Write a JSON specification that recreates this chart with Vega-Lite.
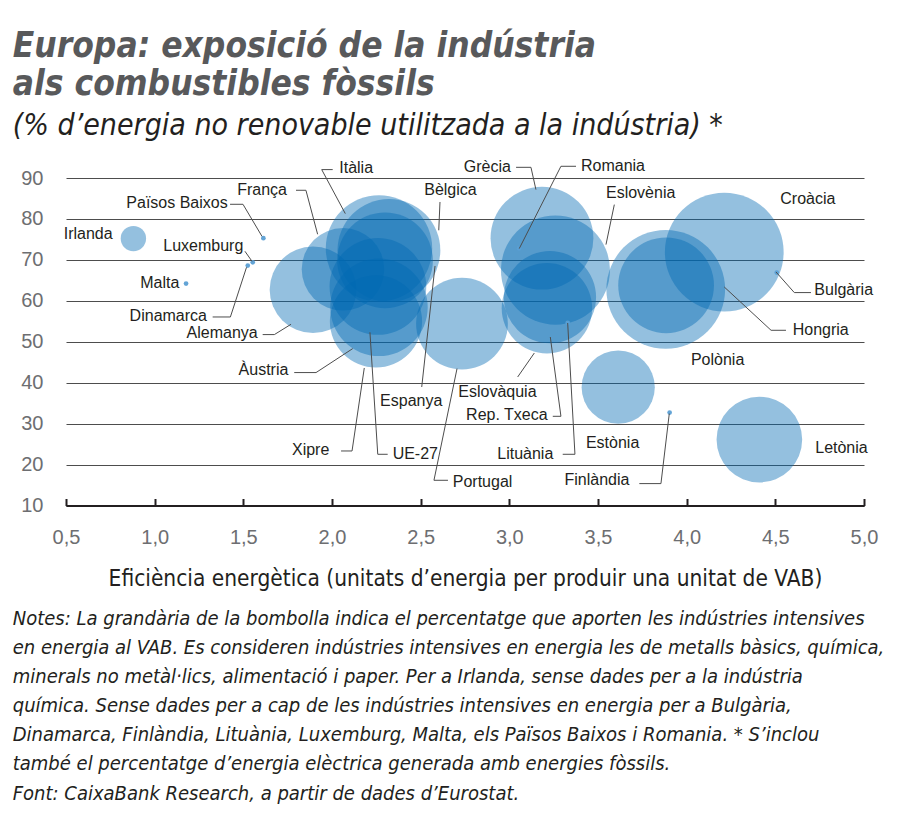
{
  "$schema": "https://vega.github.io/schema/vega-lite/v6.json",
  "background": "white",
  "padding": {"left": 12, "top": 29, "right": 8, "bottom": 8},
  "title": {
    "text": ["Europa: exposició de la indústria", "als combustibles fòssils"],
    "subtitle": "(% d’energia no renovable utilitzada a la indústria) *",
    "anchor": "start",
    "frame": "bounds",
    "dx": 0,
    "font": "Liberation Sans Narrow, DejaVu Sans Condensed, sans-serif",
    "fontSize": 35,
    "fontStyle": "italic",
    "fontWeight": "bold",
    "color": "#58595b",
    "lineHeight": 38,
    "subtitleFont": "Liberation Sans Narrow, DejaVu Sans Condensed, sans-serif",
    "subtitleFontSize": 30,
    "subtitleFontStyle": "italic",
    "subtitleColor": "#231f20",
    "subtitlePadding": 9,
    "offset": 17
  },
  "datasets": {
    "bubbles": [
      {"pais": "Irlanda", "eficiencia": 0.880, "fossil": 75.2, "vab": 1.37},
      {"pais": "Malta", "eficiencia": 1.177, "fossil": 64.2, "vab": null},
      {"pais": "Països Baixos", "eficiencia": 1.613, "fossil": 75.3, "vab": null},
      {"pais": "Luxemburg", "eficiencia": 1.553, "fossil": 69.4, "vab": null},
      {"pais": "Dinamarca", "eficiencia": 1.525, "fossil": 68.6, "vab": null},
      {"pais": "Alemanya", "eficiencia": 1.893, "fossil": 62.7, "vab": 16.0},
      {"pais": "França", "eficiencia": 2.062, "fossil": 67.7, "vab": 14.5},
      {"pais": "Itàlia", "eficiencia": 2.265, "fossil": 72.8, "vab": 24.1},
      {"pais": "Bèlgica", "eficiencia": 2.321, "fossil": 72.3, "vab": 22.5},
      {"pais": "Espanya", "eficiencia": 2.299, "fossil": 69.9, "vab": 19.5},
      {"pais": "UE-27", "eficiencia": 2.259, "fossil": 63.5, "vab": 19.9},
      {"pais": "Àustria", "eficiencia": 2.265, "fossil": 58.4, "vab": 20.2},
      {"pais": "Xipre", "eficiencia": 2.248, "fossil": 55.0, "vab": 18.1},
      {"pais": "Portugal", "eficiencia": 2.733, "fossil": 54.4, "vab": 17.9},
      {"pais": "Grècia", "eficiencia": 3.184, "fossil": 75.3, "vab": 22.5},
      {"pais": "Romania", "eficiencia": 3.055, "fossil": 72.8, "vab": null},
      {"pais": "Eslovènia", "eficiencia": 3.260, "fossil": 67.5, "vab": 25.3},
      {"pais": "Rep. Txeca", "eficiencia": 3.229, "fossil": 60.9, "vab": 18.1},
      {"pais": "Eslovàquia", "eficiencia": 3.212, "fossil": 58.2, "vab": 17.4},
      {"pais": "Lituània", "eficiencia": 3.329, "fossil": 54.6, "vab": null},
      {"pais": "Estònia", "eficiencia": 3.614, "fossil": 38.9, "vab": 11.4},
      {"pais": "Finlàndia", "eficiencia": 3.904, "fossil": 32.7, "vab": null},
      {"pais": "Hongria", "eficiencia": 3.882, "fossil": 62.8, "vab": 30.0},
      {"pais": "Polònia", "eficiencia": 3.884, "fossil": 63.8, "vab": 19.5},
      {"pais": "Croàcia", "eficiencia": 4.212, "fossil": 71.9, "vab": 30.0},
      {"pais": "Bulgària", "eficiencia": 4.508, "fossil": 66.9, "vab": null},
      {"pais": "Letònia", "eficiencia": 4.410, "fossil": 26.1, "vab": 15.6}
    ],
    "labels": [
      {"pais": "Irlanda", "eficiencia": 0.763, "fossil": 76.42},
      {"pais": "Malta", "eficiencia": 1.139, "fossil": 64.35},
      {"pais": "Països Baixos", "eficiencia": 1.412, "fossil": 83.89},
      {"pais": "França", "eficiencia": 1.746, "fossil": 87.17},
      {"pais": "Luxemburg", "eficiencia": 1.500, "fossil": 73.32},
      {"pais": "Dinamarca", "eficiencia": 1.295, "fossil": 56.29},
      {"pais": "Alemanya", "eficiencia": 1.581, "fossil": 52.14},
      {"pais": "Àustria", "eficiencia": 1.754, "fossil": 43.20},
      {"pais": "Xipre", "eficiencia": 1.985, "fossil": 23.66},
      {"pais": "Grècia", "eficiencia": 3.009, "fossil": 92.69},
      {"pais": "Rep. Txeca", "eficiencia": 3.216, "fossil": 32.21},
      {"pais": "Lituània", "eficiencia": 3.248, "fossil": 22.51},
      {"pais": "Finlàndia", "eficiencia": 3.677, "fossil": 16.16},
      {"pais": "Itàlia", "eficiencia": 2.041, "fossil": 92.54},
      {"pais": "Bèlgica", "eficiencia": 2.520, "fossil": 87.0},
      {"pais": "Espanya", "eficiencia": 2.271, "fossil": 35.53},
      {"pais": "UE-27", "eficiencia": 2.342, "fossil": 22.68},
      {"pais": "Portugal", "eficiencia": 2.681, "fossil": 15.75},
      {"pais": "Eslovàquia", "eficiencia": 2.712, "fossil": 37.73},
      {"pais": "Romania", "eficiencia": 3.404, "fossil": 92.86},
      {"pais": "Eslovènia", "eficiencia": 3.545, "fossil": 86.43},
      {"pais": "Estònia", "eficiencia": 3.432, "fossil": 25.27},
      {"pais": "Croàcia", "eficiencia": 4.528, "fossil": 84.97},
      {"pais": "Bulgària", "eficiencia": 4.720, "fossil": 62.57},
      {"pais": "Hongria", "eficiencia": 4.598, "fossil": 52.80},
      {"pais": "Polònia", "eficiencia": 4.024, "fossil": 45.64},
      {"pais": "Letònia", "eficiencia": 4.725, "fossil": 24.15}
    ],
    "leaders": [
      {"pais": "Països Baixos", "ordre": 1, "eficiencia": 1.425, "fossil": 83.58},
      {"pais": "Països Baixos", "ordre": 2, "eficiencia": 1.498, "fossil": 83.58},
      {"pais": "Països Baixos", "ordre": 3, "eficiencia": 1.605, "fossil": 75.76},
      {"pais": "França", "ordre": 1, "eficiencia": 1.797, "fossil": 87.0},
      {"pais": "França", "ordre": 2, "eficiencia": 1.853, "fossil": 87.0},
      {"pais": "França", "ordre": 3, "eficiencia": 1.919, "fossil": 76.25},
      {"pais": "Itàlia", "ordre": 1, "eficiencia": 2.004, "fossil": 92.05},
      {"pais": "Itàlia", "ordre": 2, "eficiencia": 1.942, "fossil": 92.05},
      {"pais": "Itàlia", "ordre": 3, "eficiencia": 2.075, "fossil": 81.30},
      {"pais": "Luxemburg", "ordre": 1, "eficiencia": 1.509, "fossil": 72.10},
      {"pais": "Luxemburg", "ordre": 2, "eficiencia": 1.549, "fossil": 69.65},
      {"pais": "Dinamarca", "ordre": 1, "eficiencia": 1.327, "fossil": 56.05},
      {"pais": "Dinamarca", "ordre": 2, "eficiencia": 1.427, "fossil": 56.05},
      {"pais": "Dinamarca", "ordre": 3, "eficiencia": 1.518, "fossil": 68.19},
      {"pais": "Alemanya", "ordre": 1, "eficiencia": 1.609, "fossil": 51.75},
      {"pais": "Alemanya", "ordre": 2, "eficiencia": 1.675, "fossil": 51.75},
      {"pais": "Alemanya", "ordre": 3, "eficiencia": 1.769, "fossil": 54.27},
      {"pais": "Àustria", "ordre": 1, "eficiencia": 1.787, "fossil": 42.47},
      {"pais": "Àustria", "ordre": 2, "eficiencia": 1.910, "fossil": 42.47},
      {"pais": "Àustria", "ordre": 3, "eficiencia": 2.117, "fossil": 48.33},
      {"pais": "Espanya", "ordre": 1, "eficiencia": 2.506, "fossil": 38.95},
      {"pais": "Espanya", "ordre": 2, "eficiencia": 2.581, "fossil": 68.51},
      {"pais": "Xipre", "ordre": 1, "eficiencia": 2.051, "fossil": 23.32},
      {"pais": "Xipre", "ordre": 2, "eficiencia": 2.113, "fossil": 23.32},
      {"pais": "Xipre", "ordre": 3, "eficiencia": 2.182, "fossil": 43.59},
      {"pais": "UE-27", "ordre": 1, "eficiencia": 2.314, "fossil": 22.51},
      {"pais": "UE-27", "ordre": 2, "eficiencia": 2.258, "fossil": 22.51},
      {"pais": "UE-27", "ordre": 3, "eficiencia": 2.214, "fossil": 52.31},
      {"pais": "Portugal", "ordre": 1, "eficiencia": 2.654, "fossil": 16.16},
      {"pais": "Portugal", "ordre": 2, "eficiencia": 2.575, "fossil": 16.16},
      {"pais": "Portugal", "ordre": 3, "eficiencia": 2.705, "fossil": 43.44},
      {"pais": "Eslovàquia", "ordre": 1, "eficiencia": 3.047, "fossil": 41.39},
      {"pais": "Eslovàquia", "ordre": 2, "eficiencia": 3.141, "fossil": 47.25},
      {"pais": "Rep. Txeca", "ordre": 1, "eficiencia": 3.245, "fossil": 31.79},
      {"pais": "Rep. Txeca", "ordre": 2, "eficiencia": 3.291, "fossil": 31.79},
      {"pais": "Rep. Txeca", "ordre": 3, "eficiencia": 3.231, "fossil": 51.16},
      {"pais": "Lituània", "ordre": 1, "eficiencia": 3.301, "fossil": 22.51},
      {"pais": "Lituània", "ordre": 2, "eficiencia": 3.370, "fossil": 22.51},
      {"pais": "Lituània", "ordre": 3, "eficiencia": 3.329, "fossil": 54.58},
      {"pais": "Finlàndia", "ordre": 1, "eficiencia": 3.733, "fossil": 15.35},
      {"pais": "Finlàndia", "ordre": 2, "eficiencia": 3.855, "fossil": 15.35},
      {"pais": "Finlàndia", "ordre": 3, "eficiencia": 3.902, "fossil": 32.45},
      {"pais": "Grècia", "ordre": 1, "eficiencia": 3.038, "fossil": 92.61},
      {"pais": "Grècia", "ordre": 2, "eficiencia": 3.122, "fossil": 92.61},
      {"pais": "Grècia", "ordre": 3, "eficiencia": 3.150, "fossil": 87.17},
      {"pais": "Romania", "ordre": 1, "eficiencia": 3.376, "fossil": 92.86},
      {"pais": "Romania", "ordre": 2, "eficiencia": 3.291, "fossil": 92.86},
      {"pais": "Romania", "ordre": 3, "eficiencia": 3.056, "fossil": 72.76},
      {"pais": "Eslovènia", "ordre": 1, "eficiencia": 3.592, "fossil": 83.50},
      {"pais": "Eslovènia", "ordre": 2, "eficiencia": 3.545, "fossil": 73.73},
      {"pais": "Bèlgica", "ordre": 1, "eficiencia": 2.609, "fossil": 84.14},
      {"pais": "Bèlgica", "ordre": 2, "eficiencia": 2.602, "fossil": 77.23},
      {"pais": "Bulgària", "ordre": 1, "eficiencia": 4.701, "fossil": 62.01},
      {"pais": "Bulgària", "ordre": 2, "eficiencia": 4.607, "fossil": 62.01},
      {"pais": "Bulgària", "ordre": 3, "eficiencia": 4.504, "fossil": 67.04},
      {"pais": "Hongria", "ordre": 1, "eficiencia": 4.560, "fossil": 52.80},
      {"pais": "Hongria", "ordre": 2, "eficiencia": 4.476, "fossil": 52.80},
      {"pais": "Hongria", "ordre": 3, "eficiencia": 4.212, "fossil": 63.38}
    ]
  },
  "vconcat": [
    {
      "width": 798,
      "height": 327.5,
      "title": {
        "text": [
          "Notes: La grandària de la bombolla indica el percentatge que aporten les indústries intensives",
          "en energia al VAB. Es consideren indústries intensives en energia les de metalls bàsics, química,",
          "minerals no metàl·lics, alimentació i paper. Per a Irlanda, sense dades per a la indústria",
          "química. Sense dades per a cap de les indústries intensives en energia per a Bulgària,",
          "Dinamarca, Finlàndia, Lituània, Luxemburg, Malta, els Països Baixos i Romania. * S’inclou",
          "també el percentatge d’energia elèctrica generada amb energies fòssils."
        ],
        "subtitle": "Font: CaixaBank Research, a partir de dades d’Eurostat.",
        "orient": "bottom",
        "anchor": "start",
        "frame": "bounds",
        "dx": -8,
        "offset": 19,
        "font": "Liberation Sans Narrow, DejaVu Sans Condensed, sans-serif",
        "fontSize": 20,
        "fontStyle": "italic",
        "fontWeight": "normal",
        "color": "#231f20",
        "lineHeight": 29,
        "subtitleFont": "Liberation Sans Narrow, DejaVu Sans Condensed, sans-serif",
        "subtitleFontSize": 20,
        "subtitleFontStyle": "italic",
        "subtitleColor": "#231f20",
        "subtitlePadding": 10
      },
      "encoding": {
        "x": {
          "field": "eficiencia",
          "type": "quantitative",
          "scale": {"domain": [0.5, 5], "nice": false, "zero": false},
          "axis": {
            "values": [0.5, 1, 1.5, 2, 2.5, 3, 3.5, 4, 4.5, 5],
            "labelExpr": "replace(format(datum.value, '.1f'), '.', ',')",
            "labelFlush": false,
            "grid": false,
            "domainColor": "#231f20",
            "domainWidth": 2,
            "tickColor": "#231f20",
            "tickWidth": 2,
            "tickSize": -7,
            "labelPadding": 29,
            "labelFont": "Liberation Sans",
            "labelFontSize": 20,
            "labelColor": "#6d6e71",
            "title": "Eficiència energètica (unitats d’energia per produir una unitat de VAB)",
            "titleFont": "Liberation Sans Narrow, DejaVu Sans Condensed, sans-serif",
            "titleFontSize": 22.5,
            "titleFontWeight": "normal",
            "titleColor": "#231f20",
            "titlePadding": 20
          }
        },
        "y": {
          "field": "fossil",
          "type": "quantitative",
          "scale": {"domain": [10, 90], "nice": false, "zero": false},
          "axis": {
            "values": [10, 20, 30, 40, 50, 60, 70, 80, 90],
            "domain": false,
            "ticks": false,
            "grid": true,
            "gridColor": "#4d4d4d",
            "gridWidth": 1,
            "labelFont": "Liberation Sans",
            "labelFontSize": 20,
            "labelColor": "#6d6e71",
            "labelPadding": 23,
            "title": null
          }
        }
      },
      "layer": [
        {
          "data": {"name": "bubbles"},
          "transform": [{"filter": "datum.vab != null"}],
          "mark": {"type": "circle", "color": "#0068b2", "opacity": 0.42},
          "encoding": {
            "size": {
              "field": "vab",
              "type": "quantitative",
              "scale": {"domain": [0, 30], "range": [0, 14103]},
              "legend": null
            }
          }
        },
        {
          "data": {"name": "bubbles"},
          "transform": [{"filter": "datum.vab == null"}],
          "mark": {"type": "circle", "color": "#5b9fd4", "opacity": 0.95, "size": 22}
        },
        {
          "data": {"name": "leaders"},
          "mark": {"type": "line", "color": "#4d4d4d", "strokeWidth": 1},
          "encoding": {
            "detail": {"field": "pais"},
            "order": {"field": "ordre", "type": "quantitative"}
          }
        },
        {
          "data": {"name": "labels"},
          "transform": [{"filter": {"field": "pais", "oneOf": ["Irlanda", "Malta", "Països Baixos", "França", "Luxemburg", "Dinamarca", "Alemanya", "Àustria", "Xipre", "Grècia", "Rep. Txeca", "Lituània", "Finlàndia"]}}],
          "mark": {"type": "text", "align": "right", "baseline": "middle", "font": "Liberation Sans", "fontSize": 16, "color": "#231f20"},
          "encoding": {"text": {"field": "pais"}}
        },
        {
          "data": {"name": "labels"},
          "transform": [{"filter": {"not": {"field": "pais", "oneOf": ["Irlanda", "Malta", "Països Baixos", "França", "Luxemburg", "Dinamarca", "Alemanya", "Àustria", "Xipre", "Grècia", "Rep. Txeca", "Lituània", "Finlàndia"]}}}],
          "mark": {"type": "text", "align": "left", "baseline": "middle", "font": "Liberation Sans", "fontSize": 16, "color": "#231f20"},
          "encoding": {"text": {"field": "pais"}}
        }
      ]
    }
  ],
  "config": {"view": {"stroke": null}, "concat": {"spacing": 0}}
}
